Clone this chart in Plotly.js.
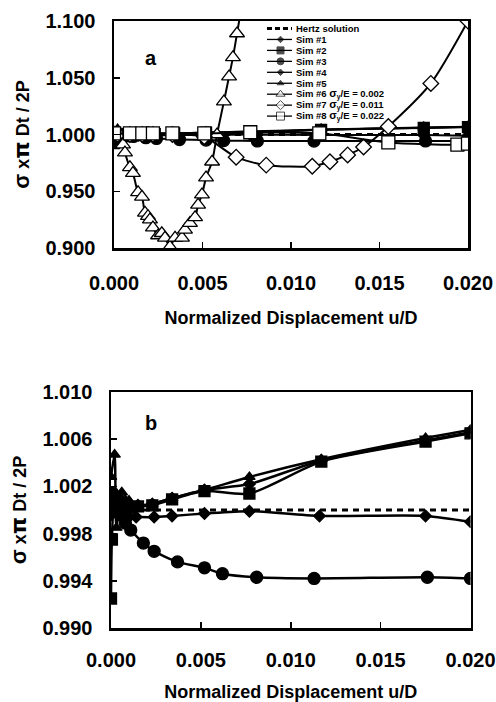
<!DOCTYPE html>
<html>
<head>
<meta charset="utf-8">
<script src="https://cdn.plot.ly/plotly-3.0.1.min.js"></script>
<style>
  html, body { margin: 0; padding: 0; background: #fff; }
  #chart { width: 496px; height: 702px; }
</style>
</head>
<body>
<div id="chart"></div>
<script>
// Normalized stress vs. normalized displacement (u/D)

// Hertz analytical solution
const hertzX = [0.000, 0.020];
const hertzY = [1.000, 1.000];

// Sim #1 (filled diamonds, lower branch)
const sim1X = [0.0000, 0.0003, 0.0006, 0.0010, 0.0014, 0.0024, 0.0034, 0.0052, 0.0077, 0.0116, 0.0175, 0.0200];
const sim1Y = [1.0000, 0.9998, 0.9996, 0.9994, 0.9994, 0.9994, 0.9995, 0.9997, 0.9999, 0.9995, 0.9995, 0.9990];

// Sim #2 (filled squares)
const sim2X = [0.0000, 0.00005, 0.0002, 0.0005, 0.0010, 0.0015, 0.0023, 0.0034, 0.0052, 0.0077, 0.0117, 0.0175, 0.0200];
const sim2Y = [0.9925, 0.9975, 1.0003, 1.0000, 1.0002, 1.0003, 1.0004, 1.0009, 1.0016, 1.0014, 1.0041, 1.0058, 1.0065];

// Sim #3 (filled circles)
const sim3X = [0.0001, 0.0003, 0.0005, 0.0008, 0.0011, 0.0018, 0.0024, 0.0037, 0.0052, 0.0062, 0.0081, 0.0113, 0.0176, 0.0200];
const sim3Y = [1.0014, 1.0005, 0.9996, 0.9989, 0.9983, 0.9972, 0.9965, 0.9956, 0.9951, 0.9946, 0.9943, 0.9942, 0.9943, 0.9942];

// Sim #4 (filled diamonds, upper branch)
const sim4X = [0.0000, 0.0003, 0.0006, 0.0010, 0.0015, 0.0023, 0.0034, 0.0052, 0.0077, 0.0117, 0.0175, 0.0200];
const sim4Y = [0.9996, 1.0012, 1.0008, 1.0005, 1.0004, 1.0005, 1.0010, 1.0017, 1.0022, 1.0042, 1.0059, 1.0066];

// Sim #5 (filled triangles)
const sim5X = [0.0000, 0.0002, 0.0003, 0.0006, 0.0010, 0.0015, 0.0023, 0.0034, 0.0052, 0.0077, 0.0117, 0.0175, 0.0200];
const sim5Y = [1.0028, 1.0047, 0.9985, 1.0015, 1.0008, 1.0004, 1.0005, 1.0010, 1.0017, 1.0028, 1.0043, 1.0061, 1.0068];

// Sim #6, sigma_y/E = 0.002 (open triangles)
const sim6X = [0.00023, 0.00051, 0.00062, 0.00090, 0.00107, 0.00136, 0.00158, 0.00175, 0.00192, 0.00203, 0.00220, 0.00249, 0.00270, 0.00288, 0.00316, 0.00345, 0.00384, 0.00401, 0.00429, 0.00458, 0.00475, 0.00497, 0.00520, 0.00554, 0.00582, 0.00621, 0.00650, 0.00672, 0.00695, 0.00718];
const sim6Y = [1.002, 0.991, 0.984, 0.971, 0.966, 0.949, 0.945, 0.931, 0.928, 0.925, 0.918, 0.911, 0.913, 0.909, 0.901, 0.909, 0.909, 0.916, 0.922, 0.927, 0.938, 0.947, 0.962, 0.976, 1.000, 1.029, 1.051, 1.068, 1.089, 1.110];

// Sim #7, sigma_y/E = 0.011 (open diamonds)
const sim7X = [0.0002, 0.0009, 0.0016, 0.0022, 0.0033, 0.0051, 0.0069, 0.0086, 0.0112, 0.0122, 0.0132, 0.0141, 0.0155, 0.0179, 0.0200];
const sim7Y = [1.000, 1.000, 1.000, 1.000, 1.000, 0.998, 0.980, 0.973, 0.972, 0.976, 0.982, 0.989, 1.007, 1.045, 1.100];

// Sim #8, sigma_y/E = 0.022 (open squares)
const sim8X = [0.0000, 0.0009, 0.0016, 0.0022, 0.0033, 0.0051, 0.0077, 0.0116, 0.0155, 0.0194, 0.0200];
const sim8Y = [1.001, 1.001, 1.001, 1.001, 1.001, 1.001, 1.002, 1.001, 0.993, 0.991, 0.992];

// Axis ticks
const xTicks = [0.000, 0.005, 0.010, 0.015, 0.020];
const yTicksA = [0.900, 0.950, 1.000, 1.050, 1.100];
const yTicksB = [0.990, 0.994, 0.998, 1.002, 1.006, 1.010];

// Legend entries (panel a)
const legendNames = ['Hertz solution', 'Sim #1', 'Sim #2', 'Sim #3', 'Sim #4', 'Sim #5',
  'Sim #6 <span style="font-size:11px">σ</span><sub>y</sub>/E = 0.002',
  'Sim #7 <span style="font-size:11px">σ</span><sub>y</sub>/E = 0.011',
  'Sim #8 <span style="font-size:11px">σ</span><sub>y</sub>/E = 0.022'];

// ---------------------------------------------------------------
const W = 496, H = 702;
const FONT = 'Liberation Sans, Arial, Helvetica, sans-serif';
const px = v => v / W;
const py = v => 1 - v / H;

const styles = [
  { dash: true },
  { symbol: 'diamond', size: 9, fill: '#000' },
  { symbol: 'square', size: 11, fill: '#000' },
  { symbol: 'circle', size: 12, fill: '#000' },
  { symbol: 'diamond', size: 9, fill: '#000' },
  { symbol: 'triangle-up', size: 10, fill: '#000' },
  { symbol: 'triangle-up', size: 13, fill: '#fff' },
  { symbol: 'diamond', size: 12, fill: '#fff' },
  { symbol: 'square', size: 13, fill: '#fff' }
];

function hertz(xa, ya) {
  return {
    x: hertzX, y: hertzY, xaxis: xa, yaxis: ya, mode: 'lines',
    line: { color: '#000', width: 3, dash: '6px,5px' },
    showlegend: false, hoverinfo: 'skip'
  };
}

function sim(xs, ys, st, xa, ya, lw) {
  return {
    x: xs, y: ys, xaxis: xa, yaxis: ya, mode: 'lines+markers',
    line: { color: '#000', width: lw, shape: 'spline', smoothing: 0.7 },
    marker: { symbol: st.symbol, size: st.size, color: st.fill, line: { color: '#000', width: 1.3 } },
    showlegend: false
  };
}

const simData = [
  [sim1X, sim1Y], [sim2X, sim2Y], [sim3X, sim3Y], [sim4X, sim4Y], [sim5X, sim5Y],
  [sim6X, sim6Y], [sim7X, sim7Y], [sim8X, sim8Y]
];

const traces = [];
// Panel a
traces.push(hertz('x', 'y'));
simData.forEach((d, i) => traces.push(sim(d[0], d[1], styles[i + 1], 'x', 'y', 2)));
// Panel b (sims 1-5 only)
traces.push(hertz('x2', 'y2'));
simData.slice(0, 5).forEach((d, i) => traces.push(sim(d[0], d[1], styles[i + 1], 'x2', 'y2', 2.5)));

// Legend keys drawn on a full-page overlay axis (pixel units)
const legKeyX0 = 267, legKeyX1 = 292, legTextX = 294, legTop = 28.5, legStep = 10.95;
const annotations = [];
legendNames.forEach((name, i) => {
  const yRow = legTop + i * legStep;
  const st = styles[i];
  if (st.dash) {
    traces.push({
      x: [legKeyX0, legKeyX1], y: [yRow, yRow], xaxis: 'x3', yaxis: 'y3', mode: 'lines',
      line: { color: '#000', width: 3, dash: '5px,3px' }, showlegend: false, hoverinfo: 'skip', cliponaxis: false
    });
  } else {
    const xc = (legKeyX0 + legKeyX1) / 2 + 1;
    traces.push({
      x: [legKeyX0, xc, legKeyX1], y: [yRow, yRow, yRow], xaxis: 'x3', yaxis: 'y3', mode: 'lines+markers',
      line: { color: '#000', width: 1.3 },
      marker: { symbol: st.symbol, size: [0, Math.round(st.size * 0.6), 0], color: st.fill, line: { color: '#000', width: 1 } },
      showlegend: false, hoverinfo: 'skip', cliponaxis: false
    });
  }
  annotations.push({
    xref: 'x3', yref: 'y3', x: legTextX, y: yRow, xanchor: 'left', yanchor: 'middle',
    text: name, showarrow: false, font: { family: FONT, size: 9.5, color: '#000', weight: 700 }
  });
});

annotations.push({
  xref: 'paper', yref: 'paper', x: px(143), y: py(45), text: 'a', showarrow: false,
  font: { family: FONT, size: 20, color: '#000', weight: 700 }
});
annotations.push({
  xref: 'paper', yref: 'paper', x: px(143), y: py(423), text: 'b', showarrow: false,
  font: { family: FONT, size: 20, color: '#000', weight: 700 }
});

const tickFont = { family: FONT, size: 20, color: '#000', weight: 700 };
const titleFont = { family: FONT, size: 18, color: '#000', weight: 700 };
const yTitle = '<span style="font-size:22px">σ</span> x<span style="font-size:22px;font-family:DejaVu Sans">π</span> Dt / 2P';

const axBase = {
  showline: true, mirror: true, linecolor: '#000', linewidth: 2.5,
  ticks: 'inside', ticklen: 6, tickwidth: 1.5, tickcolor: '#000',
  showgrid: false, zeroline: false, tickfont: tickFont, fixedrange: true
};

const layout = {
  width: W, height: H,
  margin: { l: 0, r: 0, t: 0, b: 0 },
  paper_bgcolor: '#fff', plot_bgcolor: 'rgba(0,0,0,0)',
  showlegend: false,
  font: { family: FONT, color: '#000' },
  xaxis: Object.assign({}, axBase, {
    domain: [px(114), px(468)], anchor: 'y', range: [0, 0.020],
    tickvals: xTicks, ticktext: xTicks.map(v => v.toFixed(3)), ticklabelstandoff: 15,
    title: { text: 'Normalized Displacement u/D', font: titleFont, standoff: 19 }
  }),
  yaxis: Object.assign({}, axBase, {
    domain: [py(248), py(21)], anchor: 'x', range: [0.900, 1.100],
    tickvals: yTicksA, ticktext: yTicksA.map(v => v.toFixed(3)), ticklabelstandoff: 12,
    title: { text: yTitle, font: titleFont, standoff: 11 }
  }),
  xaxis2: Object.assign({}, axBase, {
    domain: [px(111), px(470.5)], anchor: 'y2', range: [0, 0.020],
    tickvals: xTicks, ticktext: xTicks.map(v => v.toFixed(3)), ticklabelstandoff: 12,
    title: { text: 'Normalized Displacement u/D', font: titleFont, standoff: 21 }
  }),
  yaxis2: Object.assign({}, axBase, {
    domain: [py(628), py(392)], anchor: 'x2', range: [0.990, 1.010],
    tickvals: yTicksB, ticktext: yTicksB.map(v => v.toFixed(3)), ticklabelstandoff: 12,
    title: { text: yTitle, font: titleFont, standoff: 11 }
  }),
  xaxis3: { domain: [0, 1], range: [0, W], visible: false, fixedrange: true, anchor: 'y3' },
  yaxis3: { domain: [0, 1], range: [H, 0], visible: false, fixedrange: true, anchor: 'x3' },
  annotations: annotations
};

Plotly.newPlot('chart', traces, layout, { displayModeBar: false, staticPlot: true });
</script>
</body>
</html>
